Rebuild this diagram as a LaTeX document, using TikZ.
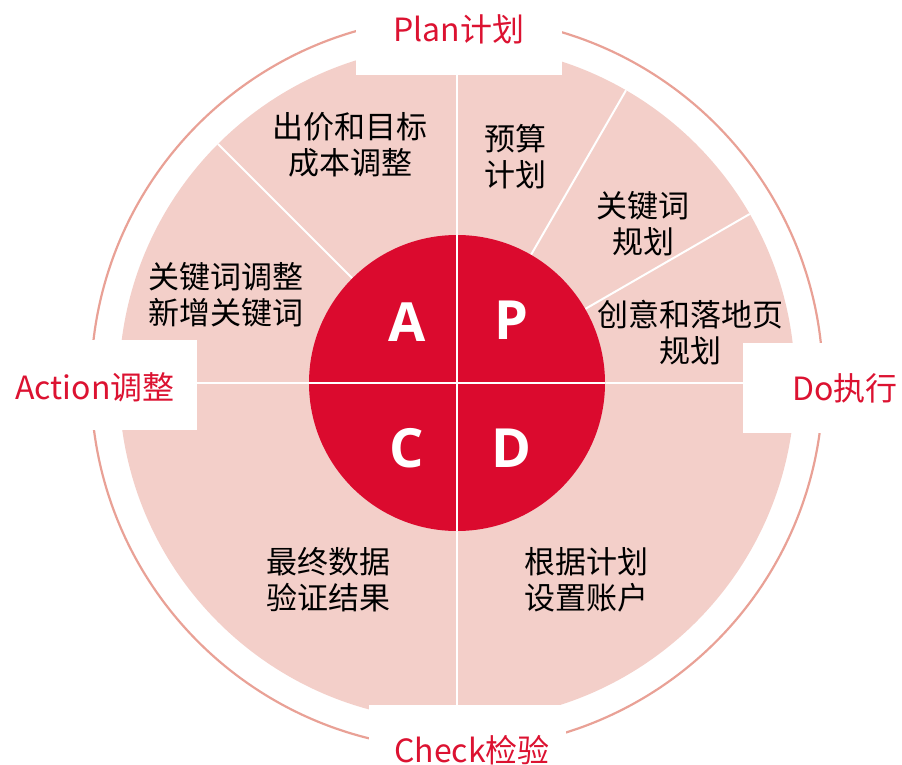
\documentclass[tikz,border=0pt]{standalone}
\usepackage{fontspec}
\setmainfont{Noto Sans CJK SC}
\newfontfamily\latinbold{Open Sans Bold}
\definecolor{redc}{HTML}{DB0A2E}
\definecolor{pinkc}{HTML}{F3CFC9}
\definecolor{ringc}{HTML}{E9A196}
\definecolor{labc}{HTML}{DC1231}
\tikzset{
  item/.style={align=center, font=\fontsize{31}{36}\selectfont, text=black, inner sep=0pt},
  phase/.style={font=\fontsize{32}{36}\selectfont, text=labc, inner sep=0pt},
  letter/.style={font=\latinbold\fontsize{54}{60}\selectfont, text=white, inner sep=0pt},
  cover/.style={fill=white, draw=none},
  sep/.style={white, line width=2pt}
}
\begin{document}
\begin{tikzpicture}[x=1pt,y=-1pt]
\useasboundingbox (0,0) rectangle (902,765);
\coordinate (O) at (457,383);
% outer ring
\draw[ringc, line width=2.2pt] (O) circle[radius=366];
% pink disc
\fill[pinkc] (O) circle[radius=338];
% sector separators
\draw[sep] (O) -- ++(-30:338);
\draw[sep] (O) -- ++(-60:338);
\draw[sep] (O) -- ++(-135:338);
\draw[sep] (O) -- ++(-90:338);
\draw[sep] (O) -- ++(90:338);
\draw[sep] (O) -- ++(0:338);
\draw[sep] (O) -- ++(180:338);
% white label boxes
\fill[cover] (356,0) rectangle (562,75);
\fill[cover] (743,343) rectangle (902,433);
\fill[cover] (0,340) rectangle (197,430);
\fill[cover] (369,705) rectangle (566,765);
% central red circle
\fill[redc] (O) circle[radius=148];
\draw[sep] (O) -- ++(0,-148);
\draw[sep] (O) -- ++(0,148);
\draw[sep] (O) -- ++(-148,0);
\draw[sep] (O) -- ++(148,0);
% letters
\node[letter] (A) at (407,322) {A};
\node[letter] (P) at (511,320) {P};
\node[letter] (C) at (407,448) {C};
\node[letter] (D) at (511,448) {D};
% phase labels
\node[phase] (plan) at (459,29) {Plan计划};
\node[phase] (do) at (845,388) {Do执行};
\node[phase] (act) at (95,387) {Action调整};
\node[phase] (chk) at (472,750) {Check检验};
% items
\node[item] (t1) at (350,145) {出价和目标\\成本调整};
\node[item] (t2) at (515,157) {预算\\计划};
\node[item] (t3) at (643,224) {关键词\\规划};
\node[item] (t4) at (690,333) {创意和落地页\\规划};
\node[item] (t5) at (226,295) {关键词调整\\新增关键词};
\node[item] (t6) at (328,580) {最终数据\\验证结果};
\node[item] (t7) at (586,580) {根据计划\\设置账户};
\end{tikzpicture}
\end{document}
